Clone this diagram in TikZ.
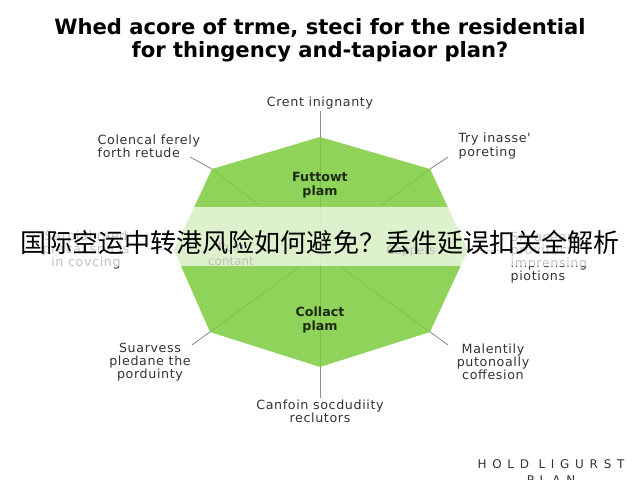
\documentclass[tikz,border=0pt]{standalone}
\usepackage{fontspec}
\setmainfont{DejaVu Sans}
\newfontfamily\labelfont[LetterSpace=5]{DejaVu Sans}
\newfontfamily\cjkfont{Noto Sans CJK SC}
\newfontfamily\markfont[LetterSpace=48]{DejaVu Sans}
\usetikzlibrary{positioning}
\definecolor{planGreen}{HTML}{8FD35A}
\definecolor{planGreenDark}{HTML}{78B944}
\definecolor{planText}{HTML}{333333}
\definecolor{planInk}{HTML}{1E2A14}
\definecolor{planLine}{HTML}{8C8C8C}
\begin{document}
\begin{tikzpicture}[
    x=0.025cm, y=-0.025cm,
    outLabel/.style={text=planText, font=\labelfont\fontsize{9}{9.3}\selectfont, inner sep=1pt},
    inLabel/.style={text=planInk, font=\fontsize{9}{10}\selectfont\bfseries, align=center, inner sep=1pt},
    leader/.style={draw=planLine, line width=0.6pt},
    spoke/.style={draw=planGreenDark, line width=0.4pt, opacity=0.7},
    banner/.style={fill=white, opacity=0.7},
]
\useasboundingbox (0,0) rectangle (640,480);
% title
\node[font=\bfseries\fontsize{15}{16.3}\selectfont, align=center, text=black] (title) at (320,40)
  {Whed acore of trme, steci for the residential\\for thingency and-tapiaor plan?};
% octagon corners
\coordinate (vT)  at (320,137);
\coordinate (vUR) at (430,169);
\coordinate (vR)  at (468,250);
\coordinate (vLR) at (430,332);
\coordinate (vB)  at (320,367);
\coordinate (vLL) at (210,332);
\coordinate (vL)  at (174,250);
\coordinate (vUL) at (212,169);
\coordinate (ctr) at (320,252);
\fill[planGreen] (vT) -- (vUR) -- (vR) -- (vLR) -- (vB) -- (vLL) -- (vL) -- (vUL) -- cycle;
\foreach \v in {vT,vUR,vR,vLR,vB,vLL,vL,vUL}
  \draw[spoke] (\v) -- (ctr);
% inner texts
\node[inLabel] (topPlan) at (320,185) {Futtowt\\plam};
\node[inLabel] (botPlan) at (320,320) {Collact\\plam};
\node[inLabel, font=\fontsize{8.5}{9.5}\selectfont] (leftIn) at (231,254) {Rulo\\contant};
\node[inLabel, font=\fontsize{8.5}{9.5}\selectfont] (rightIn) at (411,251) {Cappers};
% outer labels
\node[outLabel, align=center] (lblT) at (320,103) {Crent inignanty};
\node[outLabel, align=left, anchor=west] (lblUL) at (96,146) {Colencal ferely\\forth retude};
\node[outLabel, align=left, anchor=west] (lblUR) at (457,146) {Try inasse'\\poreting};
\node[outLabel, align=center] (lblL) at (86,250) {Sarpial raed\\pracal srvcis\\in covcing};
\node[outLabel, align=left, anchor=west] (lblR) at (509,258) {Sr. aceent\\provitucn\\imprensing\\piotions};
\node[outLabel, align=center] (lblLL) at (150,362) {Suarvess\\pledane the\\porduinty};
\node[outLabel, align=center] (lblLR) at (493,362) {Malentily\\putonoally\\coffesion};
\node[outLabel, align=center] (lblB) at (320,411) {Canfoin socdudiity\\reclutors};
% leader ends
\coordinate (tUL) at (190,157);
\coordinate (tUR) at (448,157);
\coordinate (tLL) at (192,345);
\coordinate (tLR) at (448,345);
\coordinate (tL)  at (146,249);
\coordinate (tR)  at (500,250);
\draw[leader] (vT) -- (lblT.south);
\draw[leader] (vUL) -- (tUL);
\draw[leader] (vUR) -- (tUR);
\draw[leader] (vL) -- (tL);
\draw[leader] (vR) -- (tR);
\draw[leader] (vLL) -- (tLL);
\draw[leader] (vLR) -- (tLR);
\draw[leader] (vB) -- (lblB.north);
% overlay banner
\fill[banner] (0,207) rectangle (640,266);
\node[font=\cjkfont\fontsize{18.5}{20}\selectfont, text=black, inner sep=0pt] (headline) at (320,243)
  {国际空运中转港风险如何避免？丢件延误扣关全解析};
% mark
\node[font=\markfont\fontsize{8.5}{11}\selectfont, text=planText, align=center, inner sep=0pt] (mark) at (551,472)
  {HOLD LIGURST\\PLAN};
\end{tikzpicture}
\end{document}
